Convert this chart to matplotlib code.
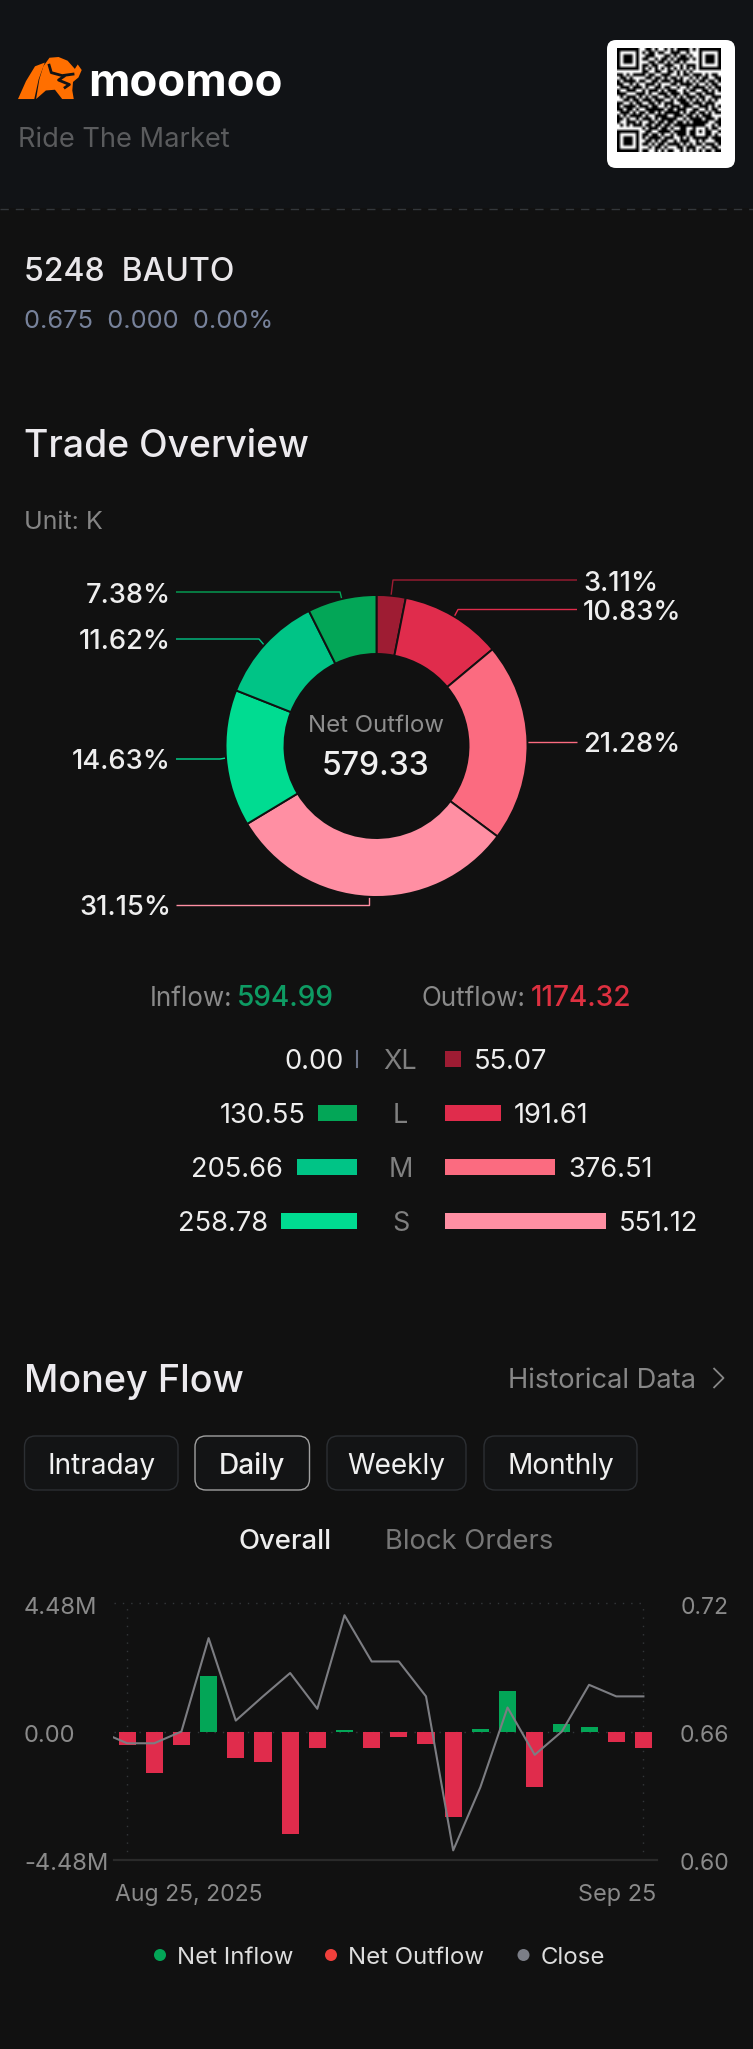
import matplotlib
matplotlib.use("Agg")
import matplotlib.pyplot as plt
from matplotlib.patches import FancyBboxPatch, Polygon, Circle, Rectangle
import numpy as np

W, H = 753, 2049
FONT = ['Inter', 'DejaVu Sans']
plt.rcParams['font.family'] = FONT

# ---------- data ----------
pie_labels = ['3.11%', '10.83%', '21.28%', '31.15%', '14.63%', '11.62%', '7.38%']
pie_values = [3.11, 10.83, 21.28, 31.15, 14.63, 11.62, 7.38]
pie_colors = ['#9e1c33', '#e02c4c', '#fb6b80', '#ff8fa3', '#00dc91', '#00c486', '#03a657']

size_names = ['XL', 'L', 'M', 'S']
inflow_vals = [0.00, 130.55, 205.66, 258.78]
outflow_vals = [55.07, 191.61, 376.51, 551.12]
inflow_cols = ['#6d7488', '#03a657', '#00c486', '#00dc91']
outflow_cols = ['#9e1c33', '#e02c4c', '#fb6b80', '#ff8fa3']

net_flow_m = [-0.46, -1.43, -0.48, 1.94, -0.93, -1.05, -3.56, -0.57, 0.06, -0.57,
              -0.20, -0.42, -2.98, 0.09, 1.42, -1.93, 0.26, 0.15, -0.37, -0.56]
close_prev = 0.66
close_vals = [0.6545, 0.6545, 0.66, 0.7036, 0.6651, 0.6764, 0.6873, 0.6706, 0.7143, 0.6927,
              0.6927, 0.6764, 0.6045, 0.634, 0.6712, 0.6491, 0.66, 0.6818, 0.6764, 0.6764]
tabs = ['Intraday', 'Daily', 'Weekly', 'Monthly']
qr_rows = [
"111111100110100101011110101111111",
"100000101011011001110010001000001",
"101110100111000110101101001011101",
"101110101100101101011110101011101",
"101110100011011010110100001011101",
"100000101101100111001011101000001",
"111111101010101010101010101111111",
"000000001100110011010101000000000",
"110101111011001110010110111010110",
"011010000110110101101001010110011",
"101111011001101110111010101101101",
"110010100111010001101111010010110",
"011101110100110110010010111101011",
"100111001011101011100101100110101",
"111000111010011101110110011011100",
"010111010101100110101011101100111",
"001101101110111001011101010101010",
"110010110011010111001110111011100",
"101111011101100101110111001110101",
"110110100111111011011100110010110",
"011101011011010111110101101101011",
"101011110100111100111011010111000",
"110100101110101111100101111011101",
"100111010011011011011010111110011",
"010101110110110110111111111100101",
"000000001011101101001100100010110",
"111111100110011110111101101011001",
"100000101101101001011101100011010",
"101110101011110111001010111110111",
"101110100110101100101110010100011",
"101110101101011011110101011011101",
"100000100010110100011011100100110",
"111111101100101011001010101011011",
]

BG = '#111111'
fig = plt.figure(figsize=(W / 100, H / 100), dpi=100, facecolor=BG)
cv = fig.add_axes([0, 0, 1, 1], zorder=0)
cv.set_xlim(0, W); cv.set_ylim(H, 0); cv.axis('off')


def px_axes(x0, y0, x1, y1, **kw):
    return fig.add_axes([x0 / W, 1 - y1 / H, (x1 - x0) / W, (y1 - y0) / H], **kw)


def T(x, y, s, px, color='#e8e8ea', ha='left', weight='normal', **kw):
    return cv.text(x, y, s, fontsize=px * 0.72, color=color, ha=ha, va='center_baseline',
                   fontweight=weight, **kw)


def L(xs, ys, color, lw=1.0, **kw):
    cv.plot(xs, ys, color=color, lw=lw, solid_capstyle='butt', **kw)


# ---------- header ----------
cv.add_patch(Rectangle((0, 0), W, 208, fc='#111316', ec='none'))
L([0, W], [208.7, 208.7], '#33373b', 1.0, ls=(0, (6, 5)))


def bx(a):
    return 18 + (a - 38) * 0.362


def by(b):
    return 57 + (b - 30) * 0.372


bull = [(38, 143), (60, 95), (85, 55), (112, 45), (95, 90), (83, 143)]
body = [(88, 143), (97, 90), (108, 55), (125, 32), (150, 30), (175, 40), (195, 62), (203, 50),
        (214, 65), (205, 85), (190, 97), (188, 120), (192, 143), (160, 143), (140, 118), (115, 120)]
for poly in (bull, body):
    cv.add_patch(Polygon([(bx(a), by(b)) for a, b in poly], fc='#ff6f00', ec='none'))
for seg in ([(124, 52), (130, 72), (160, 80), (190, 76)], [(165, 82), (150, 92), (180, 104), (168, 112)]):
    cv.plot([bx(a) for a, b in seg], [by(b) for a, b in seg], color='#111316', lw=2.0)
T(88, 79, 'moomoo', 45.5, '#ffffff', weight='bold')
T(18, 137, 'Ride The Market', 27.3, '#5a5b5d')

cv.add_patch(FancyBboxPatch((613, 46), 116, 116, boxstyle='round,pad=6,rounding_size=9', fc='white', ec='none'))
qr = np.array([[int(c) for c in r] for r in qr_rows])
cv.imshow(1 - qr, cmap='gray', vmin=0, vmax=1, extent=(617, 721, 152, 48), aspect='auto',
          interpolation='bilinear', zorder=3)
cv.set_xlim(0, W); cv.set_ylim(H, 0)

T(24, 269, '5248  BAUTO', 32, '#e9e7ea', weight='medium')
T(24.5, 319, '0.675  0.000  0.00%', 25.5, '#77829b')

# ---------- trade overview ----------
T(24, 443, 'Trade Overview', 37.3, '#eceaee', weight='medium')
T(24, 520, 'Unit: K', 25, '#858585')

ax_p = px_axes(225.5, 595, 527.5, 897, zorder=2)
ax_p.set_facecolor('none')
ax_p.pie(pie_values, colors=pie_colors, startangle=90, counterclock=False, radius=1.0,
         wedgeprops=dict(width=1 - 92 / 151, edgecolor=BG, linewidth=1.4))
ax_p.set_xlim(-1, 1); ax_p.set_ylim(-1, 1)

leaders = {
    '3.11%':  ([577, 393, 391], [580, 580, 596], 583, 581, 'left'),
    '10.83%': ([577, 458, 454], [609.5, 609.5, 617], 583, 610, 'left'),
    '21.28%': ([577, 527], [742, 742], 583, 742, 'left'),
    '31.15%': ([176, 369, 369], [905, 905, 897], 171, 905, 'right'),
    '14.63%': ([176, 220, 226], [759, 759, 758], 171, 759, 'right'),
    '11.62%': ([176, 259, 265], [639, 639, 646], 171, 639, 'right'),
    '7.38%':  ([176, 340, 342], [592, 592, 600], 171, 593, 'right'),
}
for name, col in zip(pie_labels, pie_colors):
    xs, ys, tx, ty, ha = leaders[name]
    L(xs, ys, col, 1.0)
    T(tx, ty, name, 27.3, '#eeeeee', ha=ha, zorder=5, weight='medium')

T(376, 723, 'Net Outflow', 24, '#8e8e8e', ha='center', zorder=5)
T(376, 763, '579.33', 32, '#f0f0f0', ha='center', weight='medium', zorder=5)

T(150, 996, 'Inflow:', 26, '#8a8a8a')
T(236.5, 996, '594.99', 28, '#0e9b63', weight='medium')
T(422, 996, 'Outflow:', 26, '#8a8a8a')
T(531, 996, '1174.32', 28, '#dd3040', weight='medium')

scale = 161 / 551.12
row_top, row_bot = 1032, 1248
ax_in = px_axes(200, row_top, 356.6, row_bot, zorder=2)
ax_out = px_axes(445, row_top, 700, row_bot, zorder=2)
ax_in.set_xlim((356.6 - 200) / scale, 0)
ax_out.set_xlim(0, (700 - 445) / scale)
ypos = np.arange(len(size_names))
for a, vals, cols, sign in ((ax_in, inflow_vals, inflow_cols, -1), (ax_out, outflow_vals, outflow_cols, 1)):
    a.set_ylim(3.5, -0.5); a.axis('off')
    a.barh(ypos, vals, height=16 / 54, color=cols)
    for y, v in zip(ypos, vals):
        a.annotate(f'{v:.2f}', (v, y), xytext=(sign * 9.5, 0), textcoords='offset points',
                   ha='right' if sign < 0 else 'left', va='center_baseline', color='#eeeeee', fontsize=27.3 * 0.72)
ax_in.plot([0, 0], [-16 / 108, 16 / 108], color=inflow_cols[0], lw=1.5, clip_on=False)
for y, n in zip(ypos, size_names):
    T(400.5, 1059 + 54 * y, n, 27, '#808080', ha='center')

# ---------- money flow ----------
T(24, 1378, 'Money Flow', 37.8, '#eceaee', weight='medium')
T(696, 1378, 'Historical Data', 27.3, '#878787', ha='right')
L([713.5, 723.5, 713.5], [1368, 1378, 1388], '#878787', 1.3)

tab_x = [(24.5, 178), (195, 309.5), (327, 466), (484, 637)]
for (x0, x1), n in zip(tab_x, tabs):
    act = n == 'Daily'
    cv.add_patch(FancyBboxPatch((x0 + 11, 1436 + 11), x1 - x0 - 22, 54 - 22,
                                boxstyle='round,pad=11,rounding_size=11', fc='#131415',
                                ec='#a0a0a0' if act else '#2c2f33', lw=1.0))
    T((x0 + x1) / 2, 1463, n, 28, '#f0f0f0', ha='center', weight='medium' if act else 'normal')
T(285, 1539, 'Overall', 27.5, '#eeeeee', ha='center', weight='medium')
T(469, 1539, 'Block Orders', 27.4, '#777777', ha='center')

ax = px_axes(113.5, 1603, 657, 1860, zorder=2)
ax.set_facecolor('none')
for s in ax.spines.values():
    s.set_visible(False)
ax.set_xticks([]); ax.set_yticks([])
ax.set_xlim(-0.5, 19.5)
ax.set_ylim(-4.48, 4.48)
idx = np.arange(len(net_flow_m))
ax.bar(idx, net_flow_m, width=0.63, color=['#03a657' if v > 0 else '#e02c4c' for v in net_flow_m], zorder=3)
dot = dict(color='#34373a', lw=1.0, ls=(0, (1, 5)), zorder=1)
ax.plot([-0.5, 19], [4.48, 4.48], clip_on=False, **dot)
ax.plot([-0.5, 19], [0, 0], **dot)
ax.plot([0, 0], [-4.48, 4.48], **dot)
ax.plot([19, 19], [-4.48, 4.48], **dot)
ax.axhline(-4.48, color='#2a2a2a', lw=1.6, clip_on=False, zorder=1)

ax2 = ax.twinx()
ax2.set_facecolor('none')
for s in ax2.spines.values():
    s.set_visible(False)
ax2.set_yticks([])
ax2.set_ylim(0.60, 0.72)
ax2.plot(np.arange(-1, 20), [close_prev] + close_vals, color='#7c7d82', lw=1.5, zorder=4)

for y, l, r in ((1605, '4.48M', '0.72'), (1734, '0.00', '0.66'), (1862, '-4.48M', '0.60')):
    T(24, y, l, 23.7, '#8a8a8a')
    T(729, y, r, 23, '#8a8a8a', ha='right')
T(115, 1893, 'Aug 25, 2025', 23, '#8a8a8a')
T(656, 1893, 'Sep 25', 23.5, '#8a8a8a', ha='right')

for cx, col, tx, name in ((160, '#03a657', 177, 'Net Inflow'), (331, '#f0403c', 348, 'Net Outflow'), (523.5, '#7b7e87', 541, 'Close')):
    cv.add_patch(Circle((cx, 1955), 6, fc=col, ec='none'))
    T(tx, 1956, name, 24, '#dddddd')

fig.savefig('out.png', dpi=100, facecolor=BG)
